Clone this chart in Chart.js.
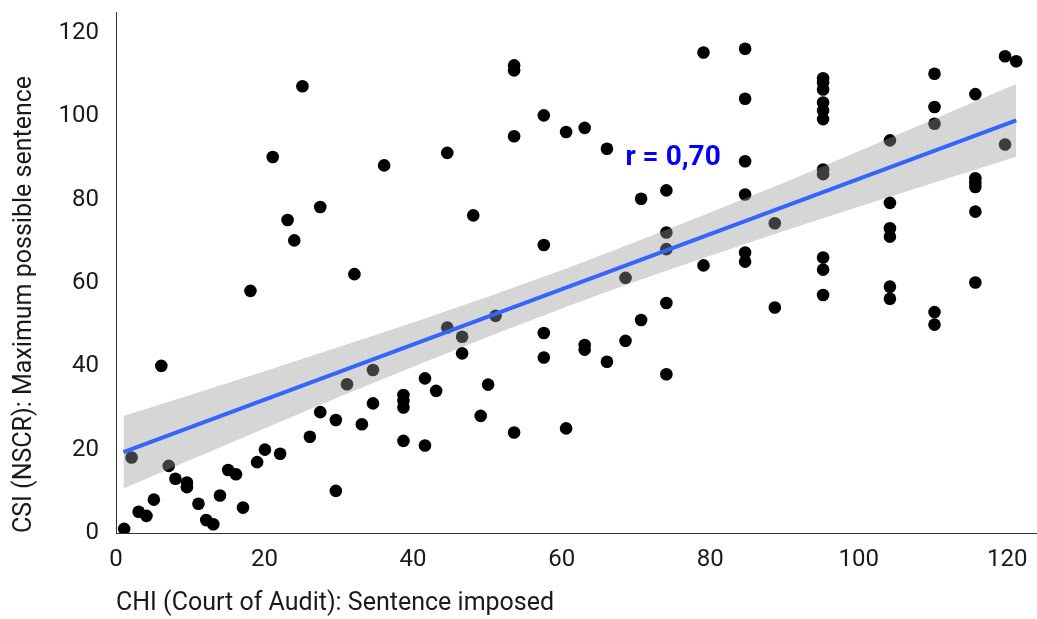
<!DOCTYPE html>
<html>
<head>
<meta charset="utf-8">
<script src="https://cdn.jsdelivr.net/npm/chart.js@4"></script>
<style>
  html, body { margin: 0; padding: 0; background: #fff; overflow: hidden; }
  .chart-box { width: 1037px; height: 619px; }
</style>
</head>
<body>
<div class="chart-box"><canvas id="myChart"></canvas></div>
<script>
// ranks, CHI (x) vs CSI (y)
const chiRank = [
  1.1, 2.1, 3.05, 4.1, 5.1, 6.1, 7.1, 8.0, 9.55, 9.55, 11.1, 12.15, 13.1, 14.0, 15.1, 16.15,
  17.1, 18.1, 19.0, 20.05, 21.1, 22.1, 23.1, 24.0, 25.1, 26.1, 27.5, 27.5, 29.6, 29.6, 31.1, 32.1,
  33.1, 34.6, 34.6, 36.1, 38.7, 38.7, 38.7, 38.7, 41.6, 41.6, 43.1, 44.6, 44.6, 46.6, 46.6, 48.1,
  49.1, 50.1, 51.1, 53.6, 53.6, 53.6, 53.6, 57.6, 57.6, 57.6, 57.6, 60.6, 60.6, 63.1, 63.1, 63.1,
  66.1, 66.1, 68.6, 68.6, 70.7, 70.7, 74.1, 74.1, 74.1, 74.1, 74.1, 79.1, 79.1,
  84.7, 84.7, 84.7, 84.7, 84.7, 84.7, 88.7, 88.7,
  95.2, 95.2, 95.2, 95.2, 95.2, 95.2, 95.2, 95.2, 95.2, 95.2, 95.2,
  104.2, 104.2, 104.2, 104.2, 104.2, 104.2, 110.2, 110.2, 110.2, 110.2, 110.2,
  115.7, 115.7, 115.7, 115.7, 115.7, 115.7, 119.7, 119.7, 121.2
];
const csiRank = [
  1.0, 18.1, 5.1, 4.1, 8.0, 40.1, 16.1, 13.0, 12.1, 11.0, 7.0, 3.1, 2.1, 9.0, 15.1, 14.1,
  6.1, 58.1, 17.0, 20.0, 90.2, 19.0, 75.1, 70.2, 107.2, 23.1, 29.0, 78.2, 27.1, 10.1, 35.7, 62.1,
  26.1, 39.1, 31.1, 88.2, 33.1, 31.7, 30.1, 22.1, 37.1, 21.0, 34.1, 91.2, 49.3, 47.1, 43.1, 76.2,
  28.1, 35.6, 52.1, 112.2, 111.0, 95.2, 24.1, 100.2, 69.1, 48.0, 42.1, 96.2, 25.1, 97.2, 45.1, 44.0,
  92.2, 41.1, 61.2, 46.1, 80.2, 51.1, 82.2, 72.1, 68.1, 55.2, 38.1, 115.3, 64.2,
  116.2, 104.2, 89.2, 81.2, 67.3, 65.1, 74.3, 54.1,
  109.1, 108.1, 106.4, 103.3, 101.4, 99.3, 87.2, 86.1, 66.1, 63.2, 57.1,
  94.2, 79.2, 73.1, 71.1, 59.1, 56.2, 110.2, 102.2, 98.2, 53.0, 50.0,
  105.3, 85.1, 84.0, 83.0, 77.1, 60.1, 114.4, 93.2, 113.2
];

// fitted line and its band
const fitX = [1, 121.2];
const fitY = [19.4, 99.0];
const bandX = [1, 10, 20, 30, 40, 50, 61, 70, 80, 90, 100, 110, 121.2];
const bandLow = [10.7, 17.5, 25.1, 32.6, 39.9, 47.0, 54.5, 60.4, 66.5, 72.5, 78.3, 84.0, 90.3];
const bandHigh = [28.1, 33.1, 38.8, 44.6, 50.5, 56.6, 63.7, 69.9, 76.9, 84.1, 91.6, 99.2, 107.7];

const xTicks = [0, 20, 40, 60, 80, 100, 120];
const yTicks = [0, 20, 40, 60, 80, 100, 120];
const rLabel = "r = 0,70";

const toXY = (xs, ys) => xs.map((x, i) => ({ x: x, y: ys[i] }));

// r label
const rText = {
  id: "rText",
  afterDatasetsDraw(chart) {
    const { ctx, scales } = chart;
    ctx.save();
    ctx.font = "bold 28px Roboto";
    ctx.fillStyle = "#0000ff";
    ctx.textAlign = "center";
    ctx.textBaseline = "middle";
    ctx.fillText(rLabel, scales.x.getPixelForValue(75), scales.y.getPixelForValue(90));
    ctx.restore();
  },
};

// no extra room for edge labels
function noPad(scale) {
  scale.paddingTop = 0;
  scale.paddingBottom = 0;
  scale.paddingLeft = 0;
  scale.paddingRight = 0;
}

const tickFont = { family: "Roboto", size: 24 };
const titleFont = { family: "Roboto", size: 25 };

const ctx = document.getElementById("myChart");

new Chart(ctx, {
  type: "scatter",
  data: {
    datasets: [
      {
        data: toXY(fitX, fitY),
        showLine: true,
        borderColor: "#3366ff",
        borderWidth: 4,
        pointRadius: 0,
        order: 0,
      },
      {
        data: toXY(bandX, bandLow),
        showLine: true,
        borderWidth: 0,
        borderColor: "rgba(0,0,0,0)",
        pointRadius: 0,
        fill: false,
        order: 1,
      },
      {
        data: toXY(bandX, bandHigh),
        showLine: true,
        borderWidth: 0,
        borderColor: "rgba(0,0,0,0)",
        backgroundColor: "rgba(153,153,153,0.4)",
        pointRadius: 0,
        fill: "-1",
        order: 1,
      },
      {
        data: toXY(chiRank, csiRank),
        backgroundColor: "#000",
        borderWidth: 0,
        pointRadius: 6.3,
        pointHoverRadius: 6.3,
        order: 2,
      },
    ],
  },
  options: {
    responsive: true,
    maintainAspectRatio: false,
    animation: false,
    layout: { autoPadding: false, padding: { top: 12, right: 0, left: 0, bottom: 0 } },
    plugins: {
      legend: { display: false },
      tooltip: { enabled: false },
      filler: { drawTime: "beforeDatasetDraw" },
    },
    scales: {
      x: {
        type: "linear",
        min: 0,
        max: 124,
        afterBuildTicks: (scale) => { scale.ticks = xTicks.map((v) => ({ value: v })); },
        afterFit: (scale) => { scale.height = 86; noPad(scale); },
        grid: { display: false, drawTicks: false },
        border: { display: true, color: "#333", width: 1 },
        ticks: { font: tickFont, color: "#1a1a1a", padding: 13, maxRotation: 0 },
        title: {
          display: true,
          text: "CHI (Court of Audit): Sentence imposed",
          align: "start",
          font: titleFont,
          color: "#1a1a1a",
          padding: { top: 0, bottom: 0 },
        },
      },
      y: {
        type: "linear",
        min: 0,
        max: 125,
        afterBuildTicks: (scale) => { scale.ticks = yTicks.map((v) => ({ value: v })); },
        afterFit: (scale) => { scale.width = 116; noPad(scale); },
        grid: { display: false, drawTicks: false },
        border: { display: true, color: "#333", width: 1 },
        ticks: { font: tickFont, color: "#1a1a1a", padding: 17 },
        title: {
          display: true,
          text: "CSI (NSCR): Maximum possible sentence",
          align: "start",
          font: titleFont,
          color: "#1a1a1a",
          padding: { top: 10, bottom: 0 },
        },
      },
    },
  },
  plugins: [rText],
});
</script>
</body>
</html>
